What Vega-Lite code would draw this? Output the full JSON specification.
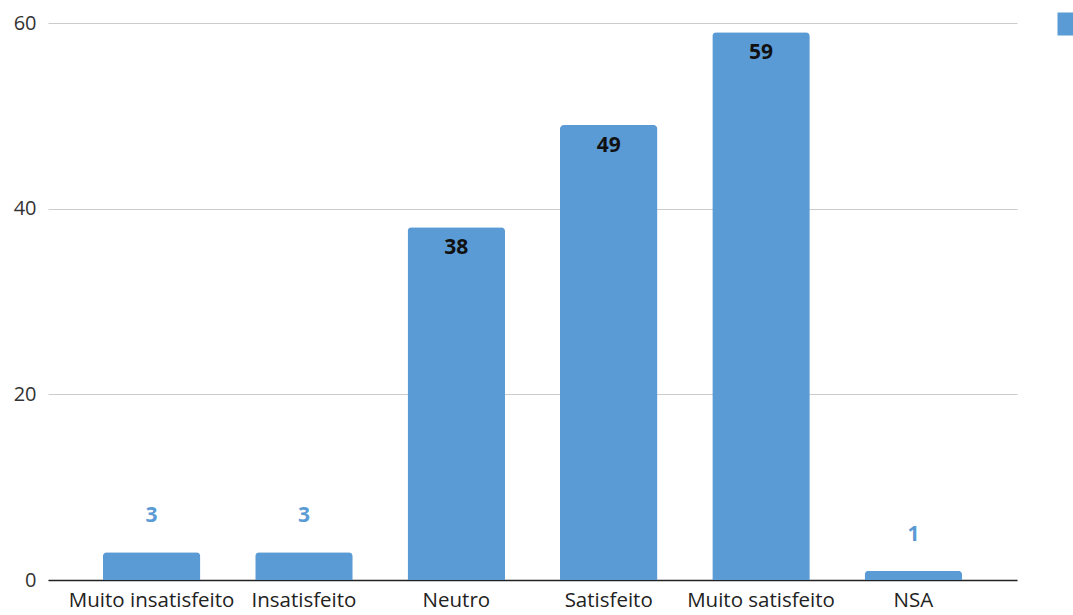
{
  "$schema": "https://vega.github.io/schema/vega-lite/v6.json",
  "autosize": "none",
  "width": 969,
  "height": 557,
  "padding": {"left": 48, "top": 23, "right": 56, "bottom": 35},
  "background": "white",
  "config": {"view": {"stroke": null}, "font": "Open Sans"},
  "data": {"values": [
    {"cat": "Muito insatisfeito", "v": 3, "s": "Série1"},
    {"cat": "Insatisfeito", "v": 3, "s": "Série1"},
    {"cat": "Neutro", "v": 38, "s": "Série1"},
    {"cat": "Satisfeito", "v": 49, "s": "Série1"},
    {"cat": "Muito satisfeito", "v": 59, "s": "Série1"},
    {"cat": "NSA", "v": 1, "s": "Série1"}
  ]},
  "encoding": {
    "x": {"field": "cat", "type": "nominal", "sort": null,
      "scale": {"paddingInner": 0.36, "paddingOuter": 0.36},
      "axis": {"title": null, "labelAngle": 0, "labelFontSize": 20.5, "labelColor": "#222", "labelPadding": 10, "ticks": false, "domainColor": "#222", "domainWidth": 1.5, "labelFont": "Open Sans"}},
    "y": {"field": "v", "type": "quantitative",
      "scale": {"domain": [0, 60]},
      "axis": {"title": null, "values": [0, 20, 40, 60], "domain": false, "ticks": false, "labelFontSize": 20, "labelColor": "#333", "labelPadding": 12, "gridColor": "#cccccc", "gridWidth": 1.2}}
  },
  "layer": [
    {"mark": {"type": "bar", "cornerRadiusTopLeft": 4, "cornerRadiusTopRight": 4},
     "encoding": {"color": {"field": "s", "type": "nominal", "scale": {"range": ["#5b9bd5"]},
       "legend": {"title": null, "orient": "none", "legendX": 1009, "legendY": -11, "symbolType": "square", "symbolSize": 530, "symbolStrokeWidth": 0, "labelExpr": "''"}}}},
    {"transform": [{"filter": "datum.v >= 10"}],
     "mark": {"type": "text", "baseline": "middle", "dy": 21, "fontSize": 21, "fontWeight": "bold", "color": "#111"},
     "encoding": {"text": {"field": "v", "type": "quantitative"}}},
    {"transform": [{"filter": "datum.v < 10"}],
     "mark": {"type": "text", "baseline": "middle", "dy": -36, "fontSize": 21, "fontWeight": "bold", "color": "#5b9bd5"},
     "encoding": {"text": {"field": "v", "type": "quantitative"}}}
  ]
}
